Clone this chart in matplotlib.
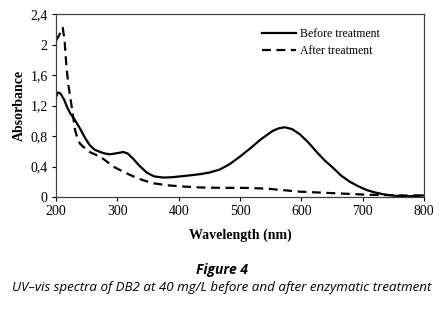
import numpy as np
import matplotlib.pyplot as plt

# values (wavelength nm, absorbance)
wl_before = [200, 203, 207, 213, 218, 223, 230, 239, 247, 255, 263, 272, 280, 288,
             296, 303, 310, 317, 326, 336, 348, 360, 375, 390, 402, 420, 435, 450,
             467, 483, 500, 517, 533, 545, 554, 563, 573, 585, 598, 612, 625, 638,
             652, 665, 679, 693, 707, 720, 734, 748, 761, 775, 790, 800]
abs_before = [1.31, 1.37, 1.36, 1.28, 1.18, 1.10, 1.02, 0.90, 0.78, 0.68, 0.62, 0.59, 0.57, 0.56,
              0.57, 0.58, 0.59, 0.57, 0.50, 0.41, 0.32, 0.27, 0.255, 0.26, 0.27, 0.285, 0.30, 0.32,
              0.36, 0.43, 0.53, 0.64, 0.75, 0.82, 0.87, 0.90, 0.915, 0.89, 0.82, 0.71, 0.59, 0.48,
              0.38, 0.28, 0.20, 0.14, 0.09, 0.06, 0.035, 0.02, 0.01, 0.01, 0.015, 0.02]

wl_after = [200, 205, 211, 214, 217, 220, 224, 228, 231, 235, 239, 247, 255, 263,
            272, 282, 293, 310, 326, 342, 359, 380, 402, 435, 470, 505, 543, 570,
            598, 625, 652, 680, 707, 740, 770, 800]
abs_after = [2.05, 2.12, 2.22, 2.05, 1.71, 1.48, 1.27, 1.05, 0.88, 0.77, 0.70, 0.64, 0.59, 0.56,
             0.53, 0.47, 0.40, 0.33, 0.27, 0.22, 0.18, 0.155, 0.14, 0.125, 0.12, 0.12, 0.11, 0.09,
             0.07, 0.06, 0.05, 0.04, 0.03, 0.025, 0.02, 0.02]

xticks = [200, 300, 400, 500, 600, 700, 800]
yticks = [0, 0.4, 0.8, 1.2, 1.6, 2.0, 2.4]
ylabels = ['0', '0,4', '0,8', '1,2', '1,6', '2', '2,4']

serif = 'Liberation Serif'

fig = plt.figure(figsize=(4.44, 3.13), dpi=100)
ax = fig.add_axes([56 / 444, 1 - 197 / 313, 368 / 444, 183 / 313])

ax.plot(wl_before, abs_before, color='black', lw=1.6, label='Before treatment')
ax.plot(wl_after, abs_after, color='black', lw=1.6, ls=(0, (4, 2.5)), label='After treatment')

ax.set_xlim(200, 800)
ax.set_ylim(0, 2.4)
ax.set_xticks(xticks)
ax.set_yticks(yticks)
ax.set_yticklabels(ylabels)
for lab in ax.get_xticklabels() + ax.get_yticklabels():
    lab.set_family(serif)
    lab.set_fontsize(10)
ax.tick_params(direction='out', length=3, width=0.8, colors='black', pad=3)
for s in ax.spines.values():
    s.set_color('#404040')
    s.set_linewidth(0.9)

ax.set_xlabel('Wavelength (nm)', family=serif, fontsize=10, fontweight='bold', labelpad=7)
ax.set_ylabel('Absorbance', family=serif, fontsize=10, fontweight='bold', labelpad=3)

leg = ax.legend(loc='upper right', bbox_to_anchor=(0.9, 0.963), frameon=False,
                prop={'family': serif, 'size': 8.5}, handlelength=2.8, handletextpad=0.4,
                labelspacing=0.45, borderaxespad=0.2)

fig.text(0.5, 1 - 270 / 313, 'Figure 4', ha='center', va='center',
         family='Open Sans', fontsize=10, fontweight='bold', style='italic')
fig.text(0.5, 1 - 287 / 313,
         'UV\u2013vis spectra of DB2 at 40 mg/L before and after enzymatic treatment',
         ha='center', va='center', family='Open Sans', fontsize=9.6, style='italic')

fig.savefig('out.png', dpi=100)
